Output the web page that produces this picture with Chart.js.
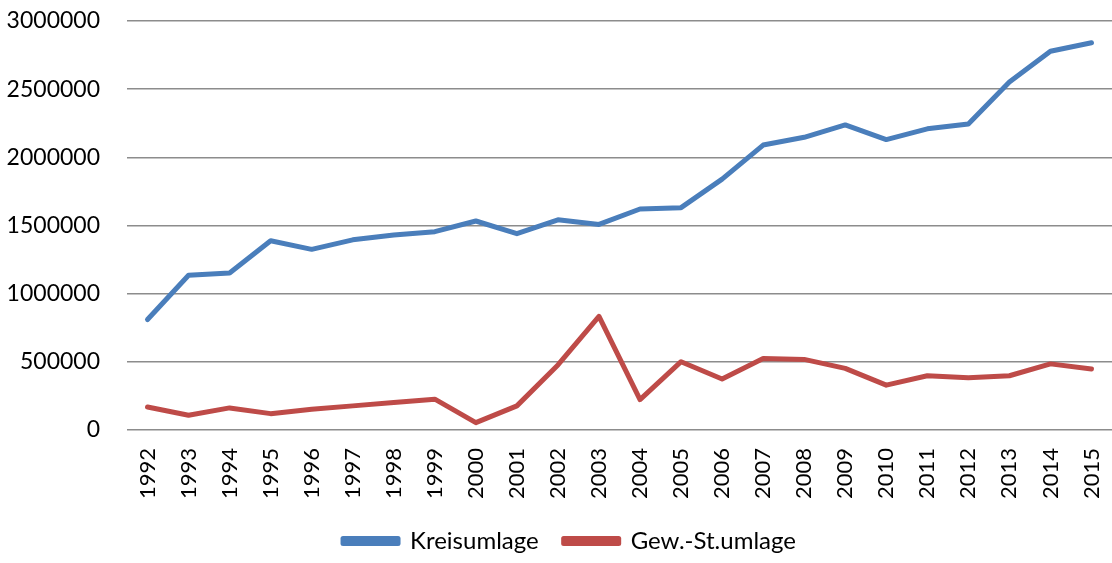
<!DOCTYPE html>
<html>
<head>
<meta charset="utf-8">
<script src="https://cdn.jsdelivr.net/npm/chart.js@4/dist/chart.umd.min.js"></script>
<style>
html,body{margin:0;padding:0;background:#fff;}
#wrap{width:1112px;height:563px;position:relative;}
</style>
</head>
<body>
<div id="wrap"><canvas id="c" width="1112" height="563"></canvas></div>
<script>
const years = ["1992","1993","1994","1995","1996","1997","1998","1999","2000","2001","2002","2003","2004","2005","2006","2007","2008","2009","2010","2011","2012","2013","2014","2015"];
const kreisumlage = [810000,1135000,1152000,1388000,1325000,1395000,1430000,1455000,1533000,1440000,1542000,1508000,1621000,1631000,1840000,2090000,2147000,2238000,2130000,2209000,2245000,2552000,2778000,2840000];
const gewStUmlage = [169000,108000,162000,120000,152000,177000,201000,226000,54000,177000,477000,833000,223000,501000,374000,525000,518000,452000,329000,398000,383000,398000,485000,447000];
const yTicks = [0,500000,1000000,1500000,2000000,2500000,3000000];

const FONT = "Lato, 'Open Sans', sans-serif";
const legendShift = {
  id: 'legendShift',
  afterLayout(chart) {
    const lg = chart.legend;
    if (lg) { lg.left += 12; lg.right += 12; }
  }
};
new Chart(document.getElementById('c'), {
  type: 'line',
  data: {
    labels: years,
    datasets: [
      {label: 'Kreisumlage', data: kreisumlage, borderColor: '#4A7EBB', backgroundColor: '#4A7EBB', borderWidth: 5, pointRadius: 0, tension: 0, borderCapStyle: 'round', borderJoinStyle: 'round'},
      {label: 'Gew.-St.umlage', data: gewStUmlage, borderColor: '#BE4B48', backgroundColor: '#BE4B48', borderWidth: 5, pointRadius: 0, tension: 0, borderCapStyle: 'round', borderJoinStyle: 'round'}
    ]
  },
  plugins: [legendShift],
  options: {
    responsive: false,
    animation: false,
    layout: {padding: {top: 21, right: -3, left: 0, bottom: 0}},
    plugins: {
      legend: {
        position: 'bottom',
        labels: {
          font: {family: FONT, size: 24},
          color: '#000',
          boxWidth: 55,
          boxHeight: 5,
          padding: 25
        }
      },
      tooltip: {enabled: false}
    },
    scales: {
      x: {
        offset: true,
        grid: {display: false, drawTicks: false},
        border: {display: false},
        ticks: {
          font: {family: FONT, size: 22},
          color: '#000',
          minRotation: 90,
          maxRotation: 90,
          autoSkip: false,
          padding: 18
        },
        afterFit: (s) => { s.height = 74; s.paddingLeft = 0; s.paddingRight = 0; }
      },
      y: {
        min: 0,
        max: 3000000,
        afterBuildTicks: (s) => { s.ticks = yTicks.map(v => ({value: v})); },
        grid: {color: '#8C8C8C', lineWidth: 1.5, drawTicks: false},
        border: {display: false},
        ticks: {
          font: {family: FONT, size: 23},
          color: '#000',
          padding: 27,
          callback: (v) => String(v)
        },
        afterFit: (s) => { s.width = 127; s.paddingTop = 0; s.paddingBottom = 0; }
      }
    }
  }
});
</script>
</body>
</html>
